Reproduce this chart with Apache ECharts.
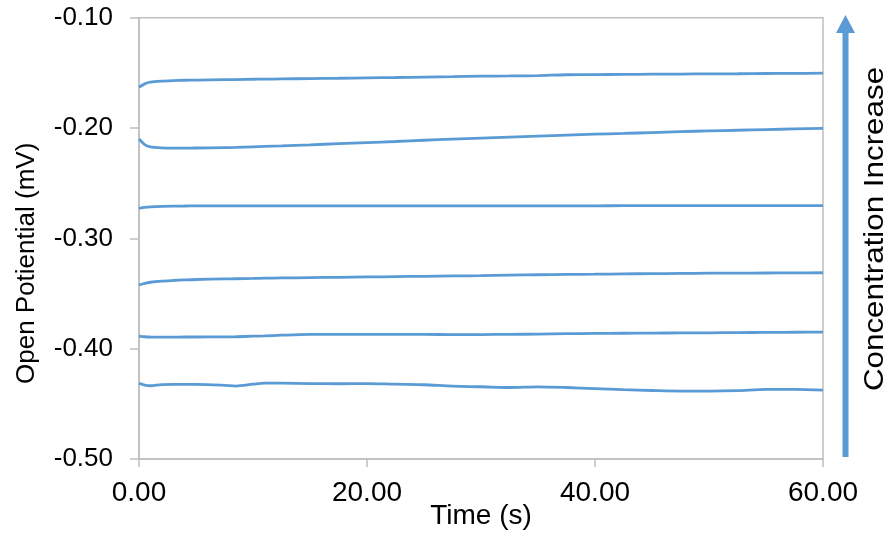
<!DOCTYPE html>
<html>
<head>
<meta charset="utf-8">
<script src="https://cdn.jsdelivr.net/npm/echarts@6/dist/echarts.min.js"></script>
<style>html,body{margin:0;padding:0;background:#fff}#c{width:891px;height:538px}</style>
</head>
<body>
<div id="c"></div>
<script>
const times = [0, 0.5, 1, 2, 3, 4, 5, 7.5, 8.5, 10, 11, 12.5, 15, 17.5, 20, 22.5, 25, 27.5, 30, 32.5, 35, 37.5, 40, 42.5, 45, 47.5, 50, 52.5, 55, 57.5, 60];
const seriesA = [-0.1630, -0.1600, -0.1585, -0.1575, -0.1570, -0.1567, -0.1565, -0.1562, -0.1561, -0.1558, -0.1557, -0.1555, -0.1552, -0.1549, -0.1545, -0.1542, -0.1538, -0.1535, -0.1530, -0.1528, -0.1525, -0.1517, -0.1516, -0.1514, -0.1512, -0.1511, -0.1509, -0.1508, -0.1506, -0.1505, -0.1503];
const seriesB = [-0.2100, -0.2150, -0.2170, -0.2180, -0.2182, -0.2182, -0.2181, -0.2178, -0.2176, -0.2170, -0.2166, -0.2161, -0.2152, -0.2142, -0.2132, -0.2122, -0.2111, -0.2100, -0.2091, -0.2082, -0.2073, -0.2064, -0.2056, -0.2049, -0.2041, -0.2033, -0.2026, -0.2020, -0.2014, -0.2008, -0.2003];
const seriesC = [-0.2728, -0.2720, -0.2715, -0.2710, -0.2708, -0.2707, -0.2706, -0.2706, -0.2705, -0.2705, -0.2705, -0.2705, -0.2705, -0.2705, -0.2705, -0.2705, -0.2705, -0.2705, -0.2705, -0.2705, -0.2705, -0.2705, -0.2705, -0.2704, -0.2704, -0.2704, -0.2704, -0.2704, -0.2704, -0.2704, -0.2704];
const seriesD = [-0.3423, -0.3408, -0.3398, -0.3388, -0.3382, -0.3377, -0.3373, -0.3368, -0.3366, -0.3363, -0.3361, -0.3359, -0.3356, -0.3353, -0.3350, -0.3347, -0.3344, -0.3341, -0.3338, -0.3334, -0.3330, -0.3327, -0.3325, -0.3322, -0.3320, -0.3318, -0.3316, -0.3315, -0.3314, -0.3313, -0.3312];
const seriesE = [-0.3886, -0.3892, -0.3894, -0.3895, -0.3895, -0.3894, -0.3894, -0.3893, -0.3892, -0.3887, -0.3884, -0.3878, -0.3871, -0.3870, -0.3870, -0.3870, -0.3871, -0.3872, -0.3872, -0.3870, -0.3868, -0.3864, -0.3862, -0.3860, -0.3859, -0.3857, -0.3856, -0.3854, -0.3853, -0.3851, -0.3850];
const seriesF = [-0.4315, -0.4330, -0.4336, -0.4325, -0.4324, -0.4324, -0.4324, -0.4332, -0.4339, -0.4322, -0.4312, -0.4313, -0.4316, -0.4318, -0.4316, -0.4322, -0.4327, -0.4340, -0.4345, -0.4352, -0.4346, -0.4352, -0.4362, -0.4372, -0.4379, -0.4384, -0.4384, -0.4380, -0.4369, -0.4369, -0.4375];
const xTicks = [0, 20, 40, 60];
const yTicks = [-0.5, -0.4, -0.3, -0.2, -0.1];
const xTitle = 'Time (s)';
const yTitle = 'Open Potiential (mV)';
const arrowLabel = 'Concentration Increase';

const allSeries = [seriesA, seriesB, seriesC, seriesD, seriesE, seriesF];
const color = '#5b9bd5';
const font = '"Liberation Sans", Arial, sans-serif';

const chart = echarts.init(document.getElementById('c'), null, {renderer: 'canvas'});
chart.setOption({
  animation: false,
  backgroundColor: '#fff',
  grid: {left: 139, right: 68, top: 17.7, bottom: 79, containLabel: false, outerBoundsMode: 'none',
         show: true, borderColor: '#bfbfbf', borderWidth: 1.5, backgroundColor: 'transparent'},
  xAxis: {
    type: 'value', min: xTicks[0], max: xTicks[xTicks.length - 1], interval: 20,
    name: xTitle, nameLocation: 'middle', nameGap: 43, nameMoveOverlap: false,
    nameTextStyle: {fontFamily: font, fontSize: 28, color: '#000'},
    axisLine: {show: true, lineStyle: {color: '#bfbfbf', width: 1.5}},
    axisTick: {show: true, length: 8, lineStyle: {color: '#bfbfbf', width: 1.5}},
    axisLabel: {fontFamily: font, fontSize: 28, color: '#000', margin: 20, formatter: v => v.toFixed(2)},
    splitLine: {show: false}
  },
  yAxis: {
    type: 'value', min: yTicks[0], max: yTicks[yTicks.length - 1], interval: 0.1,
    name: yTitle, nameLocation: 'middle', nameGap: 99, nameRotate: 90, nameMoveOverlap: false,
    nameTextStyle: {fontFamily: font, fontSize: 26, color: '#000', padding: [0, 50, 0, 0]},
    axisLine: {show: true, lineStyle: {color: '#bfbfbf', width: 1.5}},
    axisTick: {show: true, length: 9, lineStyle: {color: '#bfbfbf', width: 1.5}},
    axisLabel: {fontFamily: font, fontSize: 26, color: '#000', margin: 26, formatter: v => v.toFixed(2)},
    splitLine: {show: false}
  },
  series: allSeries.map(s => ({
    type: 'line',
    data: times.map((t, i) => [t, s[i]]),
    showSymbol: false,
    symbol: 'none',
    smooth: 0.3,
    lineStyle: {color: color, width: 2.8},
    itemStyle: {color: color}
  })),
  graphic: [
    {type: 'rect', shape: {x: 842.5, y: 32, width: 6, height: 425}, style: {fill: color}},
    {type: 'polygon', shape: {points: [[836, 33], [855, 33], [845.5, 15]]}, style: {fill: color}},
    {type: 'text', x: 875, y: 229, rotation: Math.PI / 2, scaleX: 1.12,
     style: {text: arrowLabel, fill: '#000', font: '28px ' + font, align: 'center', verticalAlign: 'middle'}}
  ]
});
</script>
</body>
</html>
